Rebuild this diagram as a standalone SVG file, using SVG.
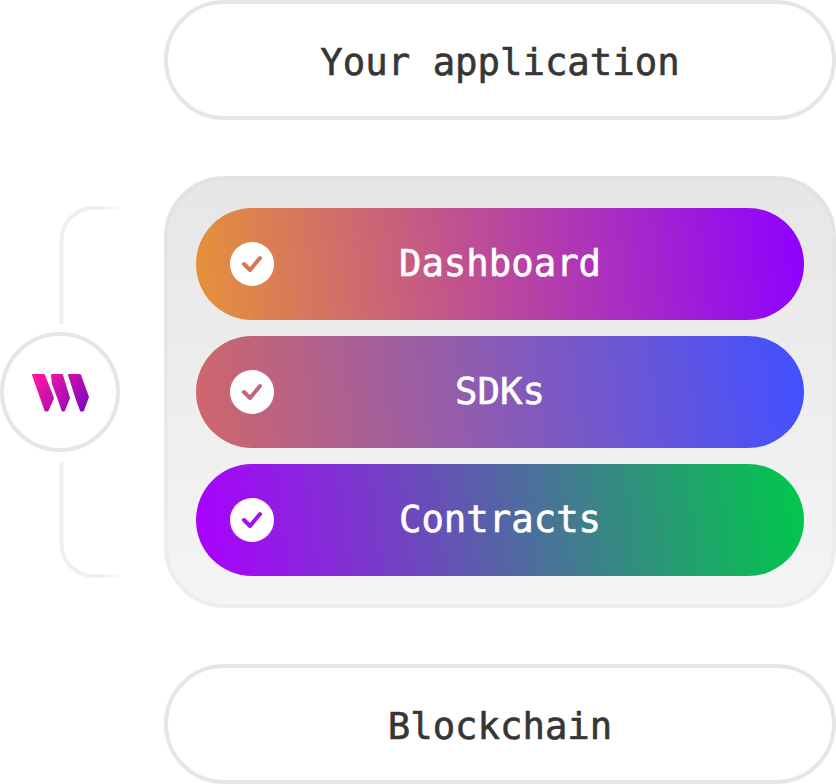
<svg xmlns="http://www.w3.org/2000/svg" width="836" height="784" viewBox="0 0 836 784">
<style>
.pill{fill:#fff;stroke:#e6e6e6;stroke-width:4}
.t{font-family:"DejaVu Sans Mono","Liberation Mono",monospace;font-size:37.3px;text-anchor:middle;stroke-width:.6px}
.d{fill:#363636;stroke:#363636}.w{fill:#fff;stroke:#fff}
.chk{fill:none;stroke-width:4;stroke-linecap:round;stroke-linejoin:round}
.conn{fill:none;stroke-width:4}
</style>
<defs>
<linearGradient id="panelF" x1="0" y1="0" x2="0" y2="1"><stop offset="0" stop-color="#e6e6e6"/><stop offset="1" stop-color="#f5f5f5"/></linearGradient>
<linearGradient id="panelS" x1="0" y1="0" x2="0" y2="1"><stop offset="0" stop-color="#e2e2e2"/><stop offset="1" stop-color="#eeeeee"/></linearGradient>
<linearGradient id="g1" gradientUnits="userSpaceOnUse" x1="197" y1="300" x2="803" y2="228"><stop offset="0" stop-color="#e5913a"/><stop offset="1" stop-color="#8f00ff"/></linearGradient>
<linearGradient id="g2" gradientUnits="userSpaceOnUse" x1="197" y1="428" x2="803" y2="356"><stop offset="0" stop-color="#cf666c"/><stop offset="1" stop-color="#4250ff"/></linearGradient>
<linearGradient id="g3" gradientUnits="userSpaceOnUse" x1="197" y1="556" x2="803" y2="484"><stop offset="0" stop-color="#aa00ff"/><stop offset="1" stop-color="#00c84a"/></linearGradient>
<linearGradient id="logo" gradientUnits="userSpaceOnUse" x1="40" y1="372" x2="85" y2="412"><stop offset="0" stop-color="#ff16a0"/><stop offset="1" stop-color="#7a08c0"/></linearGradient>
<linearGradient id="top" gradientUnits="userSpaceOnUse" x1="60" y1="0" x2="124" y2="0"><stop offset="0" stop-color="#f0f0f0"/><stop offset=".6" stop-color="#f0f0f0"/><stop offset="1" stop-color="#f0f0f0" stop-opacity="0"/></linearGradient>
</defs>
<g id="connectors">
<path class="conn" stroke="url(#top)" d="M61.500 324V240A32 32 0 0 1 93.500 208H124"/>
<path class="conn" stroke="url(#top)" d="M61.500 462V544A32 32 0 0 0 93.500 576H124"/>
</g>
<g id="your-application">
<rect class="pill" x="166" y="2" width="668" height="116" rx="58"/>
<text class="t d" x="500" y="75">Your application</text>
</g>
<g id="panel">
<rect x="166" y="178" width="668" height="428" rx="59" fill="url(#panelF)" stroke="url(#panelS)" stroke-width="4"/>
</g>
<g id="dashboard">
<rect x="196" y="208" width="608" height="112" rx="56" fill="url(#g1)"/>
<circle cx="252" cy="264" r="22" fill="#fff"/>
<path class="chk" stroke="#d5764f" d="M244 264L250 270L260 258"/>
<text class="t w" x="500" y="275.500">Dashboard</text>
</g>
<g id="sdks">
<rect x="196" y="336" width="608" height="112" rx="56" fill="url(#g2)"/>
<circle cx="252" cy="392" r="22" fill="#fff"/>
<path class="chk" stroke="#c4667a" d="M244 392L250 398L260 386"/>
<text class="t w" x="500" y="403.500">SDKs</text>
</g>
<g id="contracts">
<rect x="196" y="464" width="608" height="112" rx="56" fill="url(#g3)"/>
<circle cx="252" cy="520" r="22" fill="#fff"/>
<path class="chk" stroke="#a010f0" d="M244 520L250 526L260 514"/>
<text class="t w" x="500" y="531.500">Contracts</text>
</g>
<g id="logo-node">
<circle cx="60" cy="392" r="58" fill="#fff" stroke="#e6e6e6" stroke-width="4"/>
<g fill="url(#logo)" stroke="url(#logo)" stroke-width="2" stroke-linejoin="round">
<path d="M33 375H44L53 398L47.500 410.500H45.500Z"/>
<path d="M52 375H62L69 398L64 410.500H62.500L59 400L53 384Z"/>
<path d="M69 375H80L88 397L83 410.500H81L77 400Z"/>
</g>
</g>
<g id="blockchain">
<rect class="pill" x="166" y="666" width="668" height="116" rx="58"/>
<text class="t d" x="500" y="739">Blockchain</text>
</g>
</svg>
